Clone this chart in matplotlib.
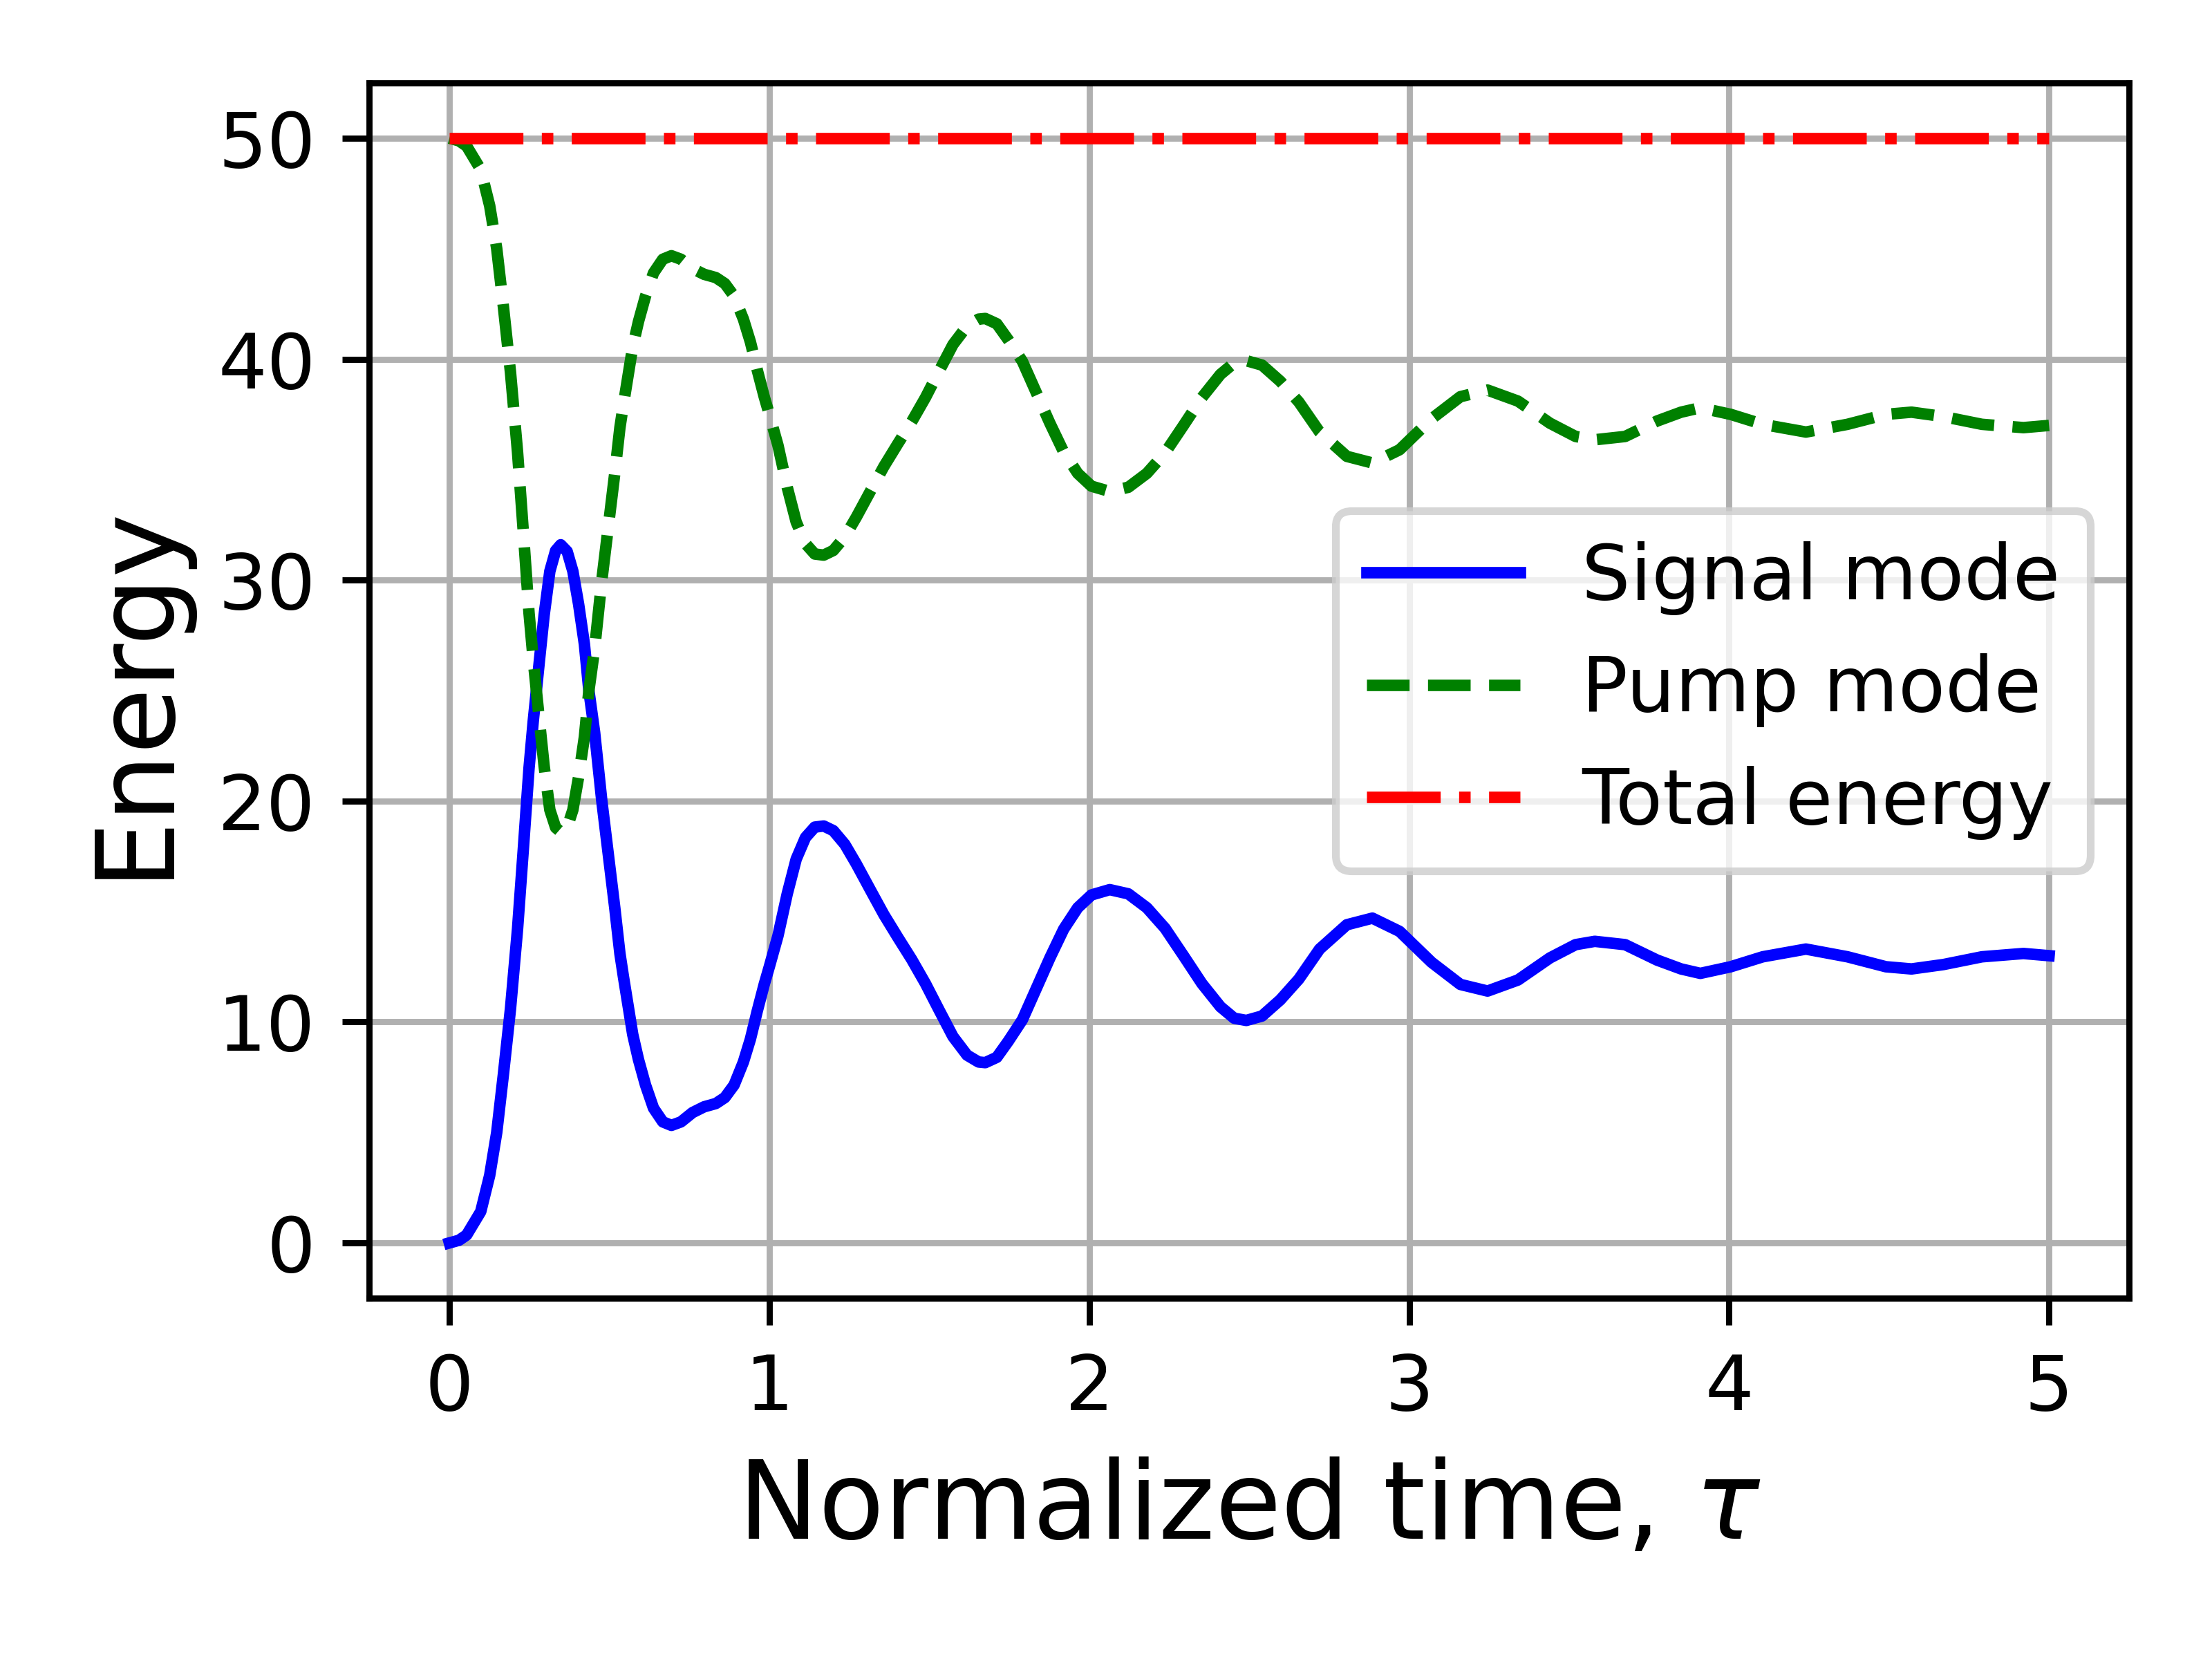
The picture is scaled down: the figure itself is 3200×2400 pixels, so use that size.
import matplotlib
matplotlib.use('Agg')
import matplotlib.pyplot as plt

# values
tau = [0.00, 0.03, 0.054, 0.098, 0.126, 0.148, 0.169, 0.191, 0.213, 0.231,
       0.249, 0.262, 0.281, 0.296, 0.314, 0.332, 0.348, 0.368, 0.386, 0.404,
       0.422, 0.436, 0.454, 0.476, 0.517, 0.533, 0.544, 0.559, 0.573, 0.591,
       0.613, 0.638, 0.667, 0.694, 0.724, 0.76, 0.796, 0.833, 0.861, 0.89,
       0.919, 0.941, 0.962, 0.984, 1.0, 1.027, 1.056, 1.084, 1.113, 1.142,
       1.17, 1.2, 1.236, 1.272, 1.315, 1.358, 1.402, 1.445, 1.488, 1.531,
       1.574, 1.618, 1.654, 1.675, 1.711, 1.747, 1.791, 1.834, 1.877, 1.92,
       1.964, 2.007, 2.064, 2.122, 2.18, 2.237, 2.295, 2.352, 2.41, 2.453,
       2.491, 2.54, 2.597, 2.655, 2.72, 2.805, 2.885, 2.97, 3.07, 3.16,
       3.245, 3.34, 3.44, 3.52, 3.58, 3.675, 3.775, 3.85, 3.91, 4.005,
       4.105, 4.24, 4.37, 4.49, 4.57, 4.67, 4.79, 4.92, 5.00]

signal = [0.0, 0.12, 0.36, 1.42, 3.06, 5.0, 7.65, 10.6, 14.2, 17.8,
          21.5, 23.6, 26.3, 28.4, 30.4, 31.33, 31.6, 31.3, 30.4, 28.9,
          27.1, 25.0, 23.1, 20.06, 15.16, 13.1, 12.05, 10.7, 9.44, 8.3,
          7.15, 6.1, 5.48, 5.32, 5.48, 5.9, 6.16, 6.31, 6.58, 7.15,
          8.19, 9.23, 10.48, 11.7, 12.5, 13.9, 15.8, 17.37, 18.35, 18.82,
          18.87, 18.66, 18.04, 17.15, 16.0, 14.86, 13.82, 12.83, 11.74, 10.53,
          9.34, 8.5, 8.19, 8.16, 8.4, 9.13, 10.1, 11.5, 12.9, 14.2,
          15.17, 15.75, 15.99, 15.8, 15.17, 14.24, 12.99, 11.74, 10.69, 10.17,
          10.07, 10.27, 11.0, 11.94, 13.3, 14.4, 14.7, 14.1, 12.7, 11.7,
          11.4, 11.9, 12.9, 13.5, 13.65, 13.5, 12.8, 12.4, 12.2, 12.5,
          12.95, 13.3, 12.95, 12.5, 12.4, 12.6, 12.95, 13.1, 13.0]

pump = [50.0, 49.88, 49.64, 48.58, 46.94, 45.0, 42.35, 39.4, 35.8, 32.2,
        28.5, 26.4, 23.7, 21.6, 19.6, 18.8, 18.6, 18.8, 19.6, 21.1,
        22.9, 25.0, 26.9, 29.94, 34.84, 36.9, 37.95, 39.3, 40.56, 41.7,
        42.85, 43.9, 44.52, 44.68, 44.52, 44.1, 43.84, 43.69, 43.42, 42.85,
        41.81, 40.77, 39.52, 38.3, 37.5, 36.1, 34.2, 32.63, 31.65, 31.18,
        31.13, 31.34, 31.96, 32.85, 34.0, 35.14, 36.18, 37.17, 38.26, 39.47,
        40.66, 41.5, 41.81, 41.84, 41.6, 40.87, 39.9, 38.5, 37.1, 35.8,
        34.83, 34.25, 34.01, 34.2, 34.83, 35.76, 37.01, 38.26, 39.31, 39.83,
        39.93, 39.73, 39.0, 38.06, 36.7, 35.6, 35.3, 35.9, 37.3, 38.3,
        38.6, 38.1, 37.1, 36.5, 36.35, 36.5, 37.2, 37.6, 37.8, 37.5,
        37.05, 36.7, 37.05, 37.5, 37.6, 37.4, 37.05, 36.9, 37.0]

total = [50.0] * len(tau)

fig, ax = plt.subplots(figsize=(4, 3), dpi=800)
ax.plot(tau, signal, color='blue', linestyle='-', linewidth=1.5, label='Signal mode')
ax.plot(tau, pump, color='green', linestyle='--', linewidth=1.5, label='Pump mode')
ax.plot(tau, total, color='red', linestyle='-.', linewidth=1.5, label='Total energy')

ax.set_xlabel(r'Normalized time, $\tau$', fontsize=14)
ax.set_ylabel('Energy', fontsize=14)
ax.grid(True)
ax.legend(loc='center right')

plt.subplots_adjust(left=0.167, right=0.9625, bottom=0.2175, top=0.95)
plt.savefig('out.png', dpi=800)
